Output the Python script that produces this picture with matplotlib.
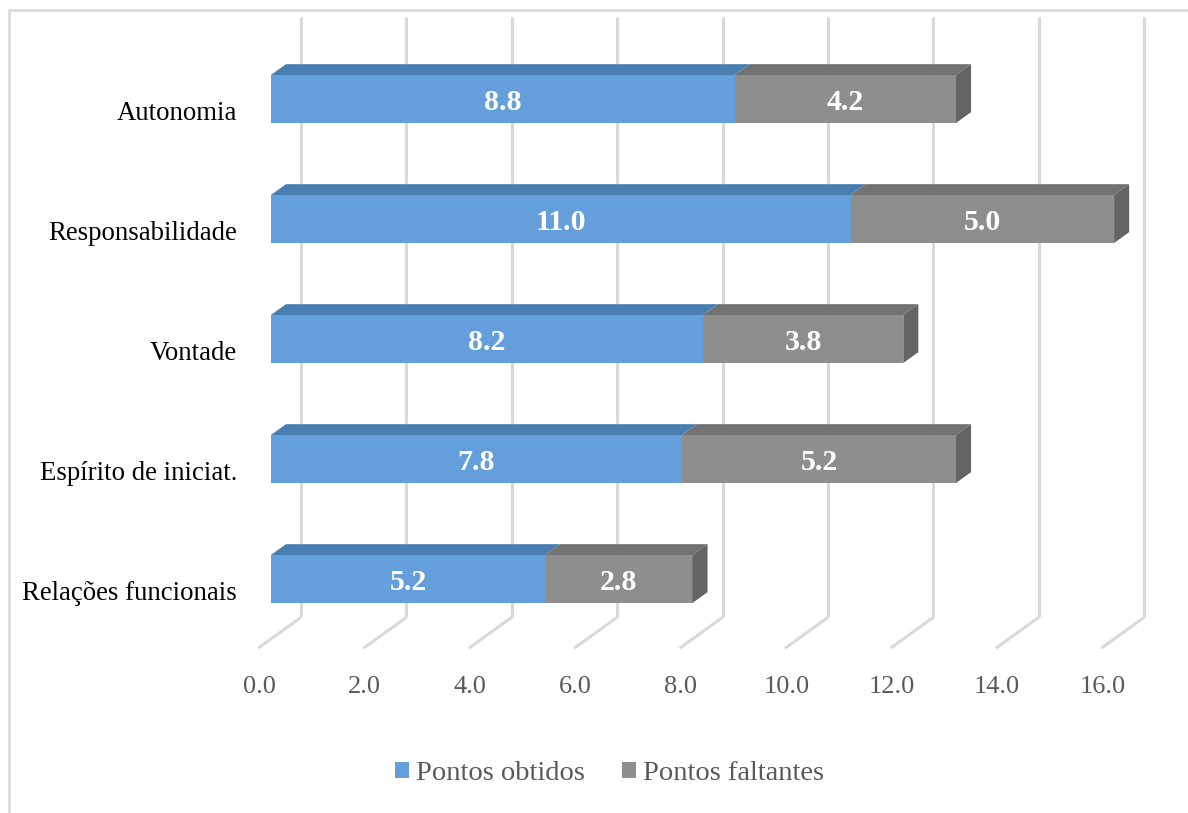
import matplotlib.pyplot as plt
from matplotlib.patches import Polygon, Rectangle, Patch

categories = ["Relações funcionais", "Espírito de iniciat.", "Vontade", "Responsabilidade", "Autonomia"]
pontos_obtidos = [5.2, 7.8, 8.2, 11.0, 8.8]
pontos_faltantes = [2.8, 5.2, 3.8, 5.0, 4.2]
tick_values = [0, 2, 4, 6, 8, 10, 12, 14, 16]
series_names = ["Pontos obtidos", "Pontos faltantes"]

BLUE = {"front": "#659fdb", "top": "#4a7eb0", "side": "#3f6c98"}
GRAY = {"front": "#8e8e8e", "top": "#727272", "side": "#646464"}
GRID = "#d9d9d9"
TEXT_GRAY = "#595959"

# oblique depth vector (in data units) for the full wall depth
DX, DY = 43 / 52.7, 31 / 120
BAR_D0, BAR_D1 = 0.30, 0.65
HALF_H = 0.2


def proj(v, y, d):
    return (v + d * DX, y + d * DY)


def draw_box(ax, v0, v1, y, colors, side=False):
    front = [proj(v0, y - HALF_H, BAR_D0), proj(v1, y - HALF_H, BAR_D0),
             proj(v1, y + HALF_H, BAR_D0), proj(v0, y + HALF_H, BAR_D0)]
    top = [proj(v0, y + HALF_H, BAR_D0), proj(v1, y + HALF_H, BAR_D0),
           proj(v1, y + HALF_H, BAR_D1), proj(v0, y + HALF_H, BAR_D1)]
    ax.add_patch(Polygon(top, closed=True, facecolor=colors["top"], edgecolor="none", zorder=3))
    ax.add_patch(Polygon(front, closed=True, facecolor=colors["front"], edgecolor="none", zorder=3))
    if side:
        right = [proj(v1, y - HALF_H, BAR_D0), proj(v1, y + HALF_H, BAR_D0),
                 proj(v1, y + HALF_H, BAR_D1), proj(v1, y - HALF_H, BAR_D1)]
        ax.add_patch(Polygon(right, closed=True, facecolor=colors["side"], edgecolor="none", zorder=3))


fig = plt.figure(figsize=(11.88, 8.13), dpi=100)
ax = fig.add_axes([0, 0, 1, 1])
ax.set_xlim(-258 / 52.7, -258 / 52.7 + 1188 / 52.7)
ax.set_ylim(-224.7 / 120, (813 - 224.7) / 120)
ax.axis("off")

# back-wall gridlines and their floor extensions
y_floor, y_top = -0.5, len(categories) - 0.5
for v in tick_values:
    bx, by0 = proj(v, y_floor, 1)
    _, by1 = proj(v, y_top, 1)
    fx, fy = proj(v, y_floor, 0)
    ax.plot([bx, bx], [by0, by1], color=GRID, lw=2.2, solid_capstyle="butt", zorder=1)
    ax.plot([bx, fx], [by0, fy], color=GRID, lw=2.2, solid_capstyle="butt", zorder=1)
    ax.annotate(f"{v:.1f}", (fx, fy), xytext=(1, -28), textcoords="offset points",
                ha="center", va="center", fontsize=19, color=TEXT_GRAY,
                family="Liberation Serif")

for i, (cat, a, b) in enumerate(zip(categories, pontos_obtidos, pontos_faltantes)):
    draw_box(ax, 0, a, i, BLUE)
    draw_box(ax, a, a + b, i, GRAY, side=True)
    for v0, v1 in [(0, a), (a, a + b)]:
        cx, cy = proj((v0 + v1) / 2, i, BAR_D0)
        ax.text(cx, cy - 0.03, f"{v1 - v0:.1f}", ha="center", va="center", fontsize=21.5,
                fontweight="bold", color="white", family="Liberation Serif", zorder=4)
    ax.annotate(cat, (0, i), xytext=(-15, -3.5), textcoords="offset points",
                ha="right", va="center", fontsize=19.3, color="black",
                family="Liberation Serif")

handles = [Patch(facecolor=BLUE["front"]), Patch(facecolor=GRAY["front"])]
fig.legend(handles, series_names, loc="center", bbox_to_anchor=(0.513, 0.048), ncol=2,
           frameon=False, handlelength=0.5, handleheight=0.5, handletextpad=0.25,
           columnspacing=1.3, prop={"family": "Liberation Serif", "size": 20.5},
           labelcolor=TEXT_GRAY)

# outer chart border
fig.patches.append(Rectangle((9 / 1188, -0.01), 1.02, 1 - 10 / 813 + 0.01, transform=fig.transFigure,
                             fill=False, edgecolor=GRID, lw=1.8))

fig.savefig("out.png", dpi=100)
